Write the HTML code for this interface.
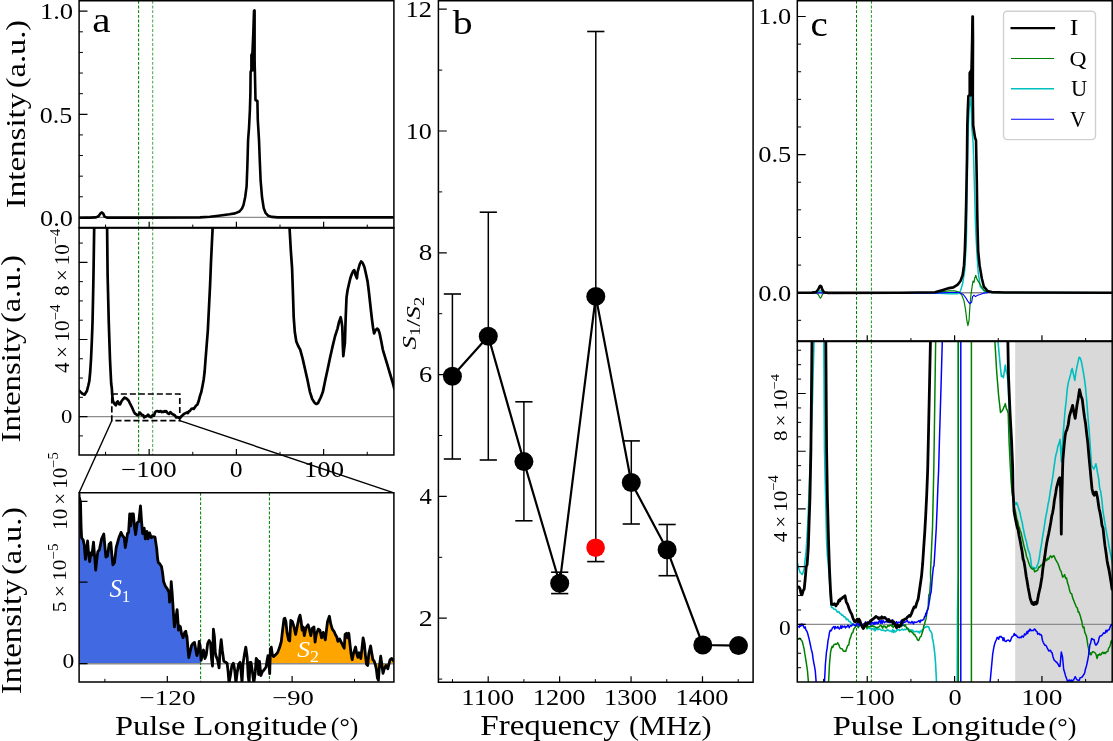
<!DOCTYPE html>
<html><head><meta charset="utf-8"><title>Figure</title>
<style>html,body{margin:0;padding:0;background:#fff;}svg{display:block;will-change:transform;}</style>
</head><body>
<svg width="1113" height="741" viewBox="0 0 1113 741" font-family='"Liberation Serif", serif'><defs><clipPath id="ca1"><rect x="79.1" y="0.8" width="314.8" height="227"/></clipPath><clipPath id="ca2"><rect x="79.1" y="227.8" width="314.8" height="227.2"/></clipPath><clipPath id="ca3"><rect x="79.1" y="492.8" width="314.8" height="189.2"/></clipPath><clipPath id="cb"><rect x="438.4" y="0.8" width="314.7" height="681.5"/></clipPath><clipPath id="cc1"><rect x="797.3" y="0.8" width="314.9" height="340.4"/></clipPath><clipPath id="cc2"><rect x="797.3" y="341.2" width="314.9" height="340.9"/></clipPath></defs><rect width="1113" height="741" fill="#fff"/><line x1="79.1" y1="217.4" x2="393.9" y2="217.4" stroke="#8c8c8c" stroke-width="1.4" />
<line x1="138.6" y1="0.8" x2="138.6" y2="227.8" stroke="#008000" stroke-width="1.05" stroke-dasharray="2.9 1.8"/>
<line x1="152.7" y1="0.8" x2="152.7" y2="227.8" stroke="#4da64d" stroke-width="1.05" stroke-dasharray="2.9 1.8"/>
<polyline points="79,217.8 90,217.6 96,217.4 98.5,216.3 100.3,213.6 101.8,212.4 103.2,213.6 104.6,216.6 107,217.6 130,217.6 200,217.4 210,216.8 218.6,215.8 229.5,214.3 235,213.4 239.5,211.5 242,208.5 243.5,205 245.2,197 246.6,186.3 247.4,165 248.1,139.8 249,128 249.9,110 250.4,93 250.6,72 251.4,70 251.4,55 252.4,53 253.3,33 254,11 254.5,10.3 254.6,11 254.6,60 254.9,72 255.5,100 257.4,101 257.8,120 259,139.8 259.8,161 260.6,180.1 262,197 263.7,208.1 265.5,212.8 268.3,215.8 272,216.9 277.6,217.4 393.7,217.4" fill="none" stroke="#000" stroke-width="2.6" stroke-linejoin="round" stroke-linecap="butt" clip-path="url(#ca1)" />
<polygon points="251.4,55 252.4,53 253.3,33 254,11 254.5,10.3 254.6,11 254.6,60 254.9,71 251.4,71" fill="#000" stroke="#000" stroke-width="1"/>
<line x1="79.1" y1="416.6" x2="393.9" y2="416.6" stroke="#8c8c8c" stroke-width="1.4" />
<line x1="138.6" y1="227.8" x2="138.6" y2="455" stroke="#008000" stroke-width="1.05" stroke-dasharray="2.9 1.8"/>
<line x1="152.7" y1="227.8" x2="152.7" y2="455" stroke="#4da64d" stroke-width="1.05" stroke-dasharray="2.9 1.8"/>
<polyline points="78.5,390.5 79.6,391 80.43,391.83 81.27,392.67 82.1,393.5 82.9,393.9 83.7,394.3 84.5,394.7 85.3,393.47 86.1,392.23 86.9,391 88.2,386 89.3,381.3 90.2,372 91,359.5 91.8,342 92.5,323.1 93,300 93.5,274.5 94.2,227 94.5,200 95.32,200 96.14,200 96.96,200 97.78,200 98.6,200 99.42,200 100.24,200 101.06,200 101.88,200 102.7,200 103.52,200 104.34,200 105.16,200 105.98,200 106.8,200 107.1,227 107.6,274.5 108.8,323.1 110,359.5 110.6,372 111.2,383.8 111.8,387.94 112.2,394.33 112.9,400.97 114,403.16 115,404.6 115.8,405.32 116.8,402.26 117.9,401.39 119,404.14 120.1,404.34 121.5,401.24 123,399.29 124.4,397.6 125.8,398.16 127.2,399.19 128.7,400.75 130.2,403.96 131.6,406.54 132.7,408.95 133.8,411.59 134.8,413.44 135.9,414.21 137.3,415.15 138.8,414.58 139.8,412.57 140.9,413.7 142,415.24 143.1,415.1 144.2,417.47 145.3,416.62 146.7,416.13 148.1,414.64 149.5,416.59 151,417.19 152.4,415.39 153.9,415.68 155,412.55 156,411.25 157.4,411.06 158.9,411.74 159.8,411.39 160.7,411.19 161.6,412.11 162.5,411.69 163.4,411.92 164.3,411.18 165.2,411.68 166.1,411.06 167.5,413.04 169,413.95 170.4,412.07 171.8,413.67 173.2,414.46 174.7,415.27 176.2,417.35 177.6,417.21 179,417.79 180.5,417.56 181.4,416.19 182.3,415.54 183.2,414.64 184.1,413.93 185.5,413.16 187,412.42 187.9,413.06 188.8,411.47 190,410.79 191.3,409.05 192.5,408.54 193.7,408.9 194.9,407.24 196.1,405.49 197.4,404.58 198.6,401.34 200,395.92 201.3,392 202.5,386 203.6,380 204.6,372 205.5,360 206.6,346 207.8,331 209,307 210.1,284.8 211,262 211.8,245 212.7,227 213.2,200 214.01,200 214.81,200 215.62,200 216.43,200 217.23,200 218.04,200 218.84,200 219.65,200 220.46,200 221.26,200 222.07,200 222.88,200 223.68,200 224.49,200 225.3,200 226.1,200 226.91,200 227.71,200 228.52,200 229.33,200 230.13,200 230.94,200 231.75,200 232.55,200 233.36,200 234.17,200 234.97,200 235.78,200 236.59,200 237.39,200 238.2,200 239,200 239.81,200 240.62,200 241.42,200 242.23,200 243.04,200 243.84,200 244.65,200 245.46,200 246.26,200 247.07,200 247.87,200 248.68,200 249.49,200 250.29,200 251.1,200 251.91,200 252.71,200 253.52,200 254.33,200 255.13,200 255.94,200 256.74,200 257.55,200 258.36,200 259.16,200 259.97,200 260.78,200 261.58,200 262.39,200 263.2,200 264,200 264.81,200 265.61,200 266.42,200 267.23,200 268.03,200 268.84,200 269.65,200 270.45,200 271.26,200 272.07,200 272.87,200 273.68,200 274.49,200 275.29,200 276.1,200 276.9,200 277.71,200 278.52,200 279.32,200 280.13,200 280.94,200 281.74,200 282.55,200 283.36,200 284.16,200 284.97,200 285.77,200 286.58,200 287.39,200 288.19,200 289,200 289.5,227 290.8,250 292.1,268.6 293,295 293.7,317.2 294.8,332 296.3,341.5 297.25,343.75 298.2,346 299.2,347.8 300.2,349.6 301.35,353.8 302.5,358 303.33,361.67 304.17,365.33 305,369 305.83,372.67 306.67,376.33 307.5,380 308.7,385.9 309.9,391.8 311.05,395.4 312.2,399 313.07,400.37 313.93,401.73 314.8,403.1 315.65,403.55 316.5,404 318,403.1 318.83,401.4 319.67,399.7 320.5,398 321.7,394.9 322.9,391.8 323.7,387.87 324.5,383.93 325.3,380 326.5,374.5 327.7,369 328.53,365 329.37,361 330.2,357 331,353.47 331.8,349.93 332.6,346.4 333.43,342.93 334.27,339.47 335.1,336 336.3,332.3 337.5,328.6 339,322 339.85,319.6 340.7,317.2 341.6,322 342.3,327 342.8,345 343.3,356.1 344,350 344.9,343.1 345.6,320 346.5,297.8 347.6,290 348.8,284.8 350.4,278 351.2,275.75 352,273.5 353.2,271 354.3,270.2 355.5,275 356.9,278.3 357.6,272 358.5,268.6 359.8,264 361.1,261.5 362.7,263 363.55,265 364.4,267 365.2,270.5 366,274 366.8,277.8 367.6,281.6 368.8,291 369.9,301 371,311 372.1,320.5 373.1,328 374.1,333.4 375.7,330 376.5,329.3 377.3,328.6 378.5,330 379.6,333.4 381.2,341 382,345.3 382.8,349.6 384,353.65 385.2,357.7 386.03,360.4 386.87,363.1 387.7,365.8 388.5,368.53 389.3,371.27 390.1,374 391.3,378 392.5,382 393.35,385.25 394.2,388.5 395.1,390.75 396,393" fill="none" stroke="#000" stroke-width="2.7" stroke-linejoin="round" stroke-linecap="butt" clip-path="url(#ca2)" />
<rect x="111.8" y="394.0" width="68.0" height="26.7" fill="none" stroke="#000" stroke-width="1.7" stroke-dasharray="6.1 2.9"/>
<line x1="111.8" y1="420.7" x2="79.1" y2="492.8" stroke="#000" stroke-width="1.4" />
<line x1="179.8" y1="420.7" x2="393.9" y2="492.8" stroke="#000" stroke-width="1.4" />
<polygon points="79.1,663.7 79.1,495.25 79.3,497 80.5,502.2 81.1,527 81.6,537.8 83.2,540 84.3,545.3 85.4,559.4 86.5,550.7 87.6,541 88.6,554 89.7,561.5 90.8,552.9 91.9,555.1 93.5,542.1 94.6,556.1 95.7,570.2 96.7,560.5 97.8,551.8 99.4,549.7 101.6,538.9 103.8,534 104.8,545.3 105.9,557.2 107.5,556.1 109.1,544.3 110.8,542.6 111.8,554 112.9,564.8 114.5,562.6 116.2,547.5 118.9,537.8 121,532.4 122.6,535.6 124.3,537.8 125.3,547.5 126.4,541 127.5,533.5 128.6,532.4 129.7,514 130.7,525.9 131.8,514 133.4,514 134.5,527 135.6,534.5 137.2,522.7 138.8,521.6 140.5,505.9 141.5,520.5 142.6,533.5 144.2,528.1 145.3,538.9 146.9,531.3 148,538.9 149.6,532.9 151.3,537.8 152.9,536.7 155,537.2 156.7,548.6 157.5,558 158.3,562.6 159.3,563.2 160.5,565 161.5,566.5 162.6,573 163.6,581.6 165.3,585.9 167.4,589.1 169,592.4 169.6,602.1 170.7,593.5 171.2,581.6 172.1,592.4 172.8,603.2 173.9,620.5 174.4,626.9 175.5,620.5 177.1,609.7 177.9,620.5 178.5,630.2 179.3,625.9 180.4,626.9 181.5,633.4 183.1,637.7 184.7,632.3 185.8,631.3 186.8,637.7 186.9,635.8 187.9,648.1 188.8,657.5 190.3,650.9 191.7,645.2 193.1,643.4 194.5,642.4 195.5,648.1 196.9,655.6 198.3,650.9 199.2,641.5 200.2,646.2 200.6,652.51 200.6,663.7" fill="#4169e1" stroke="none" clip-path="url(#ca3)"/>
<polygon points="269.6,663.7 269.6,672.24 269.7,673.6 270.4,649 271.3,647.1 272.3,654.7 273.7,656.6 275.6,654.7 277.5,652.8 279.4,648.1 280.3,645 281.3,641.5 282.7,629.2 284,618.8 284.9,618.3 285.9,621.6 287,632.4 288.6,639.9 289.7,641 290.8,620.5 292.4,621.6 294,627 295.6,634.5 297.3,625.9 298.9,618.3 300,615.1 301,620.5 302.1,630.2 303.2,627 304.3,635.6 305.9,628.1 308.1,624.8 309.1,628.1 310.8,635.6 312.4,628.1 314,627 315.1,642.1 316.2,634.5 318.3,629.1 319.9,630.2 321.5,637.8 323.2,632.4 325.3,639.9 327.5,621.6 329.4,616.2 330.7,623.7 332.3,629.1 334,631.3 335.6,635 336.7,636.7 337.9,641.3 339.6,639 341.3,642.4 343,645.9 344.2,648.2 345.1,634.4 346.5,633.3 347.6,637.9 348.8,633.3 349.9,643.6 351.1,653.9 352.2,659.7 353.4,653.9 355.6,647 356.8,653.9 357.9,657.4 359.1,652.8 360.8,658.5 362,648.2 363.1,637.9 364.3,643.6 365.4,655.1 366.5,664.2 367.7,665.4 368.8,653.9 370.6,645.9 371.7,652.8 372.9,659.7 374,660.8 375.2,664.2 376.3,668.8 377.4,678 378.4,680.3 379.2,668.8 380.7,656.2 381.8,664.2 383,673.4 384.3,668.8 386,665.4 387.8,668.8 388.9,664.2 390.1,659.7 391.8,658.5 393.5,660.8 395.9,660.03 395.9,663.7" fill="#ffa500" stroke="none" clip-path="url(#ca3)"/>
<line x1="79.1" y1="663.7" x2="393.9" y2="663.7" stroke="#8c8c8c" stroke-width="1.4" />
<line x1="200.6" y1="492.8" x2="200.6" y2="682" stroke="#008000" stroke-width="1.05" stroke-dasharray="2.9 1.8"/>
<line x1="269.4" y1="492.8" x2="269.4" y2="682" stroke="#008000" stroke-width="1.05" stroke-dasharray="2.9 1.8"/>
<polyline points="78.5,490 79.3,497 80.5,502.2 81.1,527 81.6,537.8 83.2,540 84.3,545.3 85.4,559.4 86.5,550.7 87.6,541 88.6,554 89.7,561.5 90.8,552.9 91.9,555.1 93.5,542.1 94.6,556.1 95.7,570.2 96.7,560.5 97.8,551.8 99.4,549.7 101.6,538.9 103.8,534 104.8,545.3 105.9,557.2 107.5,556.1 109.1,544.3 110.8,542.6 111.8,554 112.9,564.8 114.5,562.6 116.2,547.5 118.9,537.8 121,532.4 122.6,535.6 124.3,537.8 125.3,547.5 126.4,541 127.5,533.5 128.6,532.4 129.7,514 130.7,525.9 131.8,514 133.4,514 134.5,527 135.6,534.5 137.2,522.7 138.8,521.6 140.5,505.9 141.5,520.5 142.6,533.5 144.2,528.1 145.3,538.9 146.9,531.3 148,538.9 149.6,532.9 151.3,537.8 152.9,536.7 155,537.2 156.7,548.6 157.5,558 158.3,562.6 159.3,563.2 160.5,565 161.5,566.5 162.6,573 163.6,581.6 165.3,585.9 167.4,589.1 169,592.4 169.6,602.1 170.7,593.5 171.2,581.6 172.1,592.4 172.8,603.2 173.9,620.5 174.4,626.9 175.5,620.5 177.1,609.7 177.9,620.5 178.5,630.2 179.3,625.9 180.4,626.9 181.5,633.4 183.1,637.7 184.7,632.3 185.8,631.3 186.8,637.7 186.9,635.8 187.9,648.1 188.8,657.5 190.3,650.9 191.7,645.2 193.1,643.4 194.5,642.4 195.5,648.1 196.9,655.6 198.3,650.9 199.2,641.5 200.2,646.2 201.1,660.4 202.1,655.6 203.5,650 204.9,658.5 206.3,654.7 207.7,643.4 209.2,640.5 210.6,643.4 211.5,658.5 212.5,666 213.4,629.2 214.4,636.7 215.3,652.8 216.2,656.6 217.7,660.4 219.1,667.9 220,650.9 221.2,639.6 222.4,650.9 223.8,661.3 225.7,662.3 227.1,663.2 228.1,671.7 229,683 230.4,675.5 231.8,666 233.3,663.2 234,666 234.9,671.7 235.9,683 237.3,671.7 238.7,664.1 240.1,662.3 241.1,671.7 242,683 243,664.1 244.4,654.7 245.8,647.1 247.2,657.5 248.2,676.4 249.1,683 250.1,662.3 251,662.3 252.4,671.7 253.8,683 255.3,671.7 256.2,658.5 257.6,660.4 258.6,674.5 259.5,661.3 260.9,675.5 262.4,671.7 264.2,669.8 266.1,667 267.1,660.4 268,655.6 269,664.1 269.7,673.6 270.4,649 271.3,647.1 272.3,654.7 273.7,656.6 275.6,654.7 277.5,652.8 279.4,648.1 280.3,645 281.3,641.5 282.7,629.2 284,618.8 284.9,618.3 285.9,621.6 287,632.4 288.6,639.9 289.7,641 290.8,620.5 292.4,621.6 294,627 295.6,634.5 297.3,625.9 298.9,618.3 300,615.1 301,620.5 302.1,630.2 303.2,627 304.3,635.6 305.9,628.1 308.1,624.8 309.1,628.1 310.8,635.6 312.4,628.1 314,627 315.1,642.1 316.2,634.5 318.3,629.1 319.9,630.2 321.5,637.8 323.2,632.4 325.3,639.9 327.5,621.6 329.4,616.2 330.7,623.7 332.3,629.1 334,631.3 335.6,635 336.7,636.7 337.9,641.3 339.6,639 341.3,642.4 343,645.9 344.2,648.2 345.1,634.4 346.5,633.3 347.6,637.9 348.8,633.3 349.9,643.6 351.1,653.9 352.2,659.7 353.4,653.9 355.6,647 356.8,653.9 357.9,657.4 359.1,652.8 360.8,658.5 362,648.2 363.1,637.9 364.3,643.6 365.4,655.1 366.5,664.2 367.7,665.4 368.8,653.9 370.6,645.9 371.7,652.8 372.9,659.7 374,660.8 375.2,664.2 376.3,668.8 377.4,678 378.4,680.3 379.2,668.8 380.7,656.2 381.8,664.2 383,673.4 384.3,668.8 386,665.4 387.8,668.8 388.9,664.2 390.1,659.7 391.8,658.5 393.5,660.8 396,660" fill="none" stroke="#000" stroke-width="2.8" stroke-linejoin="round" stroke-linecap="butt" clip-path="url(#ca3)" />
<path d="M79.1,0.8V227.8 M393.9,0.8V227.8 M79.1,0.8H393.9 M79.1,227.8H393.9" stroke="#000" stroke-width="1.5" fill="none" stroke-linecap="square"/>
<path d="M79.1,227.8V455 M393.9,227.8V455 M79.1,455H393.9" stroke="#000" stroke-width="1.5" fill="none" stroke-linecap="square"/>
<line x1="79.1" y1="227.8" x2="393.9" y2="227.8" stroke="#000" stroke-width="2.0" />
<path d="M79.1,492.8V682 M393.9,492.8V682 M79.1,492.8H393.9 M79.1,682H393.9" stroke="#000" stroke-width="1.5" fill="none" stroke-linecap="square"/>
<path d="M79.1,11.2h8.4 M79.1,114.3h8.4 M79.1,217.4h8.4" stroke="#000" stroke-width="1.2"/>
<path d="M79.1,196.78h3.8 M79.1,176.16h3.8 M79.1,155.54h3.8 M79.1,134.92h3.8 M79.1,93.68h3.8 M79.1,73.06h3.8 M79.1,52.44h3.8 M79.1,31.82h3.8" stroke="#000" stroke-width="1.0"/>
<path d="M149.17,227.8v-6.0 M236.4,227.8v-6.0 M323.63,227.8v-6.0" stroke="#000" stroke-width="1.2"/>
<path d="M105.56,227.8v-3.2 M192.79,227.8v-3.2 M280.01,227.8v-3.2 M367.25,227.8v-3.2" stroke="#000" stroke-width="1.0"/>
<path d="M79.1,416.6h8.4 M79.1,339.48h8.4 M79.1,262.36h8.4" stroke="#000" stroke-width="1.2"/>
<path d="M79.1,435.88h3.8 M79.1,397.32h3.8 M79.1,378.04h3.8 M79.1,358.76h3.8 M79.1,320.2h3.8 M79.1,300.92h3.8 M79.1,281.64h3.8 M79.1,243.08h3.8" stroke="#000" stroke-width="1.0"/>
<path d="M149.17,455v-6.0 M236.4,455v-6.0 M323.63,455v-6.0" stroke="#000" stroke-width="1.2"/>
<path d="M105.56,455v-3.2 M192.79,455v-3.2 M280.01,455v-3.2 M367.25,455v-3.2" stroke="#000" stroke-width="1.0"/>
<path d="M79.1,663.7h8.4 M79.1,582.2h8.4 M79.1,501.3h8.4" stroke="#000" stroke-width="1.2"/>
<path d="M167.3,682v-6.0 M292.1,682v-6.0" stroke="#000" stroke-width="1.2"/>
<path d="M104.9,682v-3.2 M229.7,682v-3.2 M354.5,682v-3.2" stroke="#000" stroke-width="1.0"/>
<line x1="452.4" y1="294" x2="452.4" y2="459" stroke="#000" stroke-width="1.5" />
<line x1="443.8" y1="294" x2="461" y2="294" stroke="#000" stroke-width="1.6" />
<line x1="443.8" y1="459" x2="461" y2="459" stroke="#000" stroke-width="1.6" />
<line x1="488.3" y1="212.2" x2="488.3" y2="460" stroke="#000" stroke-width="1.5" />
<line x1="479.7" y1="212.2" x2="496.9" y2="212.2" stroke="#000" stroke-width="1.6" />
<line x1="479.7" y1="460" x2="496.9" y2="460" stroke="#000" stroke-width="1.6" />
<line x1="523.9" y1="401.8" x2="523.9" y2="520.8" stroke="#000" stroke-width="1.5" />
<line x1="515.3" y1="401.8" x2="532.5" y2="401.8" stroke="#000" stroke-width="1.6" />
<line x1="515.3" y1="520.8" x2="532.5" y2="520.8" stroke="#000" stroke-width="1.6" />
<line x1="559.7" y1="572.2" x2="559.7" y2="593.6" stroke="#000" stroke-width="1.5" />
<line x1="551.1" y1="572.2" x2="568.3" y2="572.2" stroke="#000" stroke-width="1.6" />
<line x1="551.1" y1="593.6" x2="568.3" y2="593.6" stroke="#000" stroke-width="1.6" />
<line x1="595.8" y1="31.5" x2="595.8" y2="296.4" stroke="#000" stroke-width="1.5" />
<line x1="587.2" y1="31.5" x2="604.4" y2="31.5" stroke="#000" stroke-width="1.6" />
<line x1="631.3" y1="440.9" x2="631.3" y2="524" stroke="#000" stroke-width="1.5" />
<line x1="622.7" y1="440.9" x2="639.9" y2="440.9" stroke="#000" stroke-width="1.6" />
<line x1="622.7" y1="524" x2="639.9" y2="524" stroke="#000" stroke-width="1.6" />
<line x1="667.1" y1="524.5" x2="667.1" y2="575.7" stroke="#000" stroke-width="1.5" />
<line x1="658.5" y1="524.5" x2="675.7" y2="524.5" stroke="#000" stroke-width="1.6" />
<line x1="658.5" y1="575.7" x2="675.7" y2="575.7" stroke="#000" stroke-width="1.6" />
<line x1="595.8" y1="296.4" x2="595.8" y2="561.6" stroke="#000" stroke-width="1.5" />
<line x1="587.2" y1="561.6" x2="604.4" y2="561.6" stroke="#000" stroke-width="1.6" />
<polyline points="452.4,376.3 488.3,336.2 523.9,461.6 559.7,583.2 595.8,296.4 631.3,482.5 667.1,549.7 702.8,645 738.5,645.6" fill="none" stroke="#000" stroke-width="2.2" stroke-linejoin="round" stroke-linecap="butt" clip-path="url(#cb)" />
<circle cx="452.4" cy="376.3" r="9.5" fill="#000"/>
<circle cx="488.3" cy="336.2" r="9.5" fill="#000"/>
<circle cx="523.9" cy="461.6" r="9.5" fill="#000"/>
<circle cx="559.7" cy="583.2" r="9.5" fill="#000"/>
<circle cx="595.8" cy="296.4" r="9.5" fill="#000"/>
<circle cx="631.3" cy="482.5" r="9.5" fill="#000"/>
<circle cx="667.1" cy="549.7" r="9.5" fill="#000"/>
<circle cx="702.8" cy="645" r="9.5" fill="#000"/>
<circle cx="738.5" cy="645.6" r="9.5" fill="#000"/>
<circle cx="595.6" cy="547.7" r="9.3" fill="#ff0000"/>
<path d="M438.4,0.8V682.3 M753.1,0.8V682.3 M438.4,0.8H753.1 M438.4,682.3H753.1" stroke="#000" stroke-width="1.5" fill="none" stroke-linecap="square"/>
<path d="M438.4,9.2h8.4 M438.4,131h8.4 M438.4,252.8h8.4 M438.4,374.6h8.4 M438.4,496.4h8.4 M438.4,618.2h8.4" stroke="#000" stroke-width="1.2"/>
<path d="M438.4,70.1h3.8 M438.4,191.9h3.8 M438.4,313.7h3.8 M438.4,435.5h3.8 M438.4,557.3h3.8 M438.4,679.1h3.8" stroke="#000" stroke-width="1.0"/>
<path d="M488.2,682.3v-6.0 M559.63,682.3v-6.0 M631.06,682.3v-6.0 M702.49,682.3v-6.0" stroke="#000" stroke-width="1.2"/>
<path d="M452.49,682.3v-3.2 M523.91,682.3v-3.2 M595.35,682.3v-3.2 M666.77,682.3v-3.2 M738.21,682.3v-3.2" stroke="#000" stroke-width="1.0"/>
<line x1="797.3" y1="292.7" x2="1112.2" y2="292.7" stroke="#8c8c8c" stroke-width="1.4" />
<line x1="856.5" y1="0.8" x2="856.5" y2="341.2" stroke="#008000" stroke-width="1.05" stroke-dasharray="2.9 1.8"/>
<line x1="871.4" y1="0.8" x2="871.4" y2="341.2" stroke="#239b23" stroke-width="1.05" stroke-dasharray="2.9 1.8"/>
<polyline points="797,293 816,293 818.5,291.8 820.4,290.6 822.3,291.8 825,293 935,293.1 949.2,293.8 957.7,293.8 960.5,290.9 962.6,283.8 964.8,269.7 966.2,244.2 966.6,230 967,200 967.4,175 967.8,150 968.3,128 969.2,108 970.7,96.5 971.3,110 971.9,128.1 973.1,142.7 973.7,160 974.3,181.6 975.5,225.4 976.1,238 976.8,251.3 978.2,272.5 980.3,286.7 984.6,291.6 991.7,292.5 1113,292.7" fill="none" stroke="#00bfbf" stroke-width="1.5" stroke-linejoin="round" stroke-linecap="butt" clip-path="url(#cc1)" />
<polyline points="797,292.8 816,292.8 818.2,294.5 819.6,297 820.4,298.2 821.3,297 822.5,294.3 824,292.8 935,292.3 949.2,290.9 954.8,290.9 959.1,292.3 961.9,295.2 964,300.9 965.5,309.4 966.9,320.7 967.9,325.7 969,320.7 970.1,303.7 971.1,293.8 972.1,286.7 973,281 974,282.4 974.7,278.2 975.8,275.3 976.8,278.9 978.9,282.4 981.1,286 983.9,290.2 987.4,292.1 1005,292.6 1113,292.7" fill="none" stroke="#008000" stroke-width="1.2" stroke-linejoin="round" stroke-linecap="butt" clip-path="url(#cc1)" />
<polyline points="797,292.9 935,293.1 949.2,292.5 959.1,292.5 963.3,294.5 965.5,297.3 967.6,300.9 969.7,303.7 971.6,302.3 972.6,296.6 974,295.2 975.4,296.6 977.5,295.2 980.3,294.5 983.9,293.1 988.8,292.5 1113,292.7" fill="none" stroke="#0000ff" stroke-width="1.1" stroke-linejoin="round" stroke-linecap="butt" clip-path="url(#cc1)" />
<polyline points="797,292.8 812,292.6 816,292 818.2,289.5 819.6,286.5 820.4,285.8 821.3,286.5 822.4,289.8 824,292.3 828,292.9 900,292.7 935,292.3 942.1,290.2 949.2,288.1 953.4,287.4 957.7,284.6 960.5,281 962.6,275.3 964,265.4 964.8,251.3 965.5,230 966.1,206 967,157.3 967.3,125.3 967.8,110 968.4,96 969.7,95 969.7,73 971.5,70 972.2,37.5 972.5,16.5 972.8,16.5 973,40 972.8,96 973.2,125.3 974.3,133 975.1,138 976,140.3 976.4,160 976.8,181.6 977.2,210 977.6,230 978.2,251.3 979.6,265.4 981.8,278.2 983.9,286.7 987.4,290.9 991.7,292.1 1005,292.5 1113,292.7" fill="none" stroke="#000" stroke-width="2.6" stroke-linejoin="round" stroke-linecap="butt" clip-path="url(#cc1)" />
<polygon points="969.7,73 971.5,70 972.2,37.5 972.5,16.5 972.8,16.5 973,40 972.8,96 969.7,96" fill="#000" stroke="#000" stroke-width="1"/>
<rect x="1015.2" y="341.2" width="97" height="340.9" fill="#d9d9d9"/>
<line x1="797.3" y1="624.4" x2="1112.2" y2="624.4" stroke="#8c8c8c" stroke-width="1.4" />
<line x1="856.5" y1="341.2" x2="856.5" y2="682.1" stroke="#008000" stroke-width="1.05" stroke-dasharray="2.9 1.8"/>
<line x1="871.4" y1="341.2" x2="871.4" y2="682.1" stroke="#239b23" stroke-width="1.05" stroke-dasharray="2.9 1.8"/>
<polyline points="796,565 796.85,566.06 797.7,563.67 798.5,568.22 799.3,569.75 800.1,572.62 801.1,573.1 802.1,574.49 802.8,573.43 803.5,570.88 804.2,568.83 805.2,559.04 806.2,550.32 807.1,535.53 808,519.12 808.75,499.79 809.5,480.06 810.25,460 811,439.52 811.75,420.01 812.5,398.95 813.3,368.16 814.1,338 814.85,338 815.59,338 816.34,338 817.08,338 817.83,338 818.58,338 819.32,338 820.07,338 820.82,338 821.56,338 822.31,338 823.05,338 823.8,338 824.5,450.73 825.2,480.5 825.9,508.9 826.6,540.74 827.4,555.75 828.2,562.78 829.5,580.57 830.5,596.54 831.5,607.46 832.33,607.65 833.17,607.9 834,609.29 834.87,609.25 835.73,609.45 836.6,610.91 837.35,612.07 838.1,611.46 838.85,611.48 839.6,613.26 840.35,613.44 841.1,614.05 841.85,615.28 842.6,615.02 843.35,616.06 844.1,616.98 844.85,616.81 845.6,617.76 846.38,619.65 847.15,619.11 847.93,619.2 848.7,621.17 849.7,621.44 850.7,622.36 851.75,624.32 852.8,624.03 853.8,625.15 854.8,625.31 855.8,625.55 856.8,625.19 857.55,626.73 858.3,626.96 859.05,625.9 859.8,625.2 860.57,624.68 861.35,624.69 862.12,625.31 862.9,624.93 863.72,624.64 864.54,625.98 865.36,626.68 866.18,626.05 867,628.9 867.8,627.33 868.6,627.16 869.4,628.57 870.2,628.62 871,628.61 871.8,628.81 872.6,628.82 873.4,629.59 874.2,628.46 875,630.81 875.82,629.18 876.64,627.87 877.46,629.76 878.28,629.39 879.1,629.05 879.88,629.09 880.66,629.71 881.44,630.19 882.22,630.42 883,630 883.75,630.34 884.5,630.46 885.25,631.03 886,630.89 886.75,630.43 887.5,629.54 888.25,630.24 889,630.66 889.75,630.94 890.5,630.98 891.25,631.13 892,631.94 892.76,629.59 893.52,632.4 894.29,630.39 895.05,632.04 895.81,631.27 896.58,630.9 897.34,629.25 898.1,629.86 898.92,629.39 899.73,630.62 900.55,630.17 901.37,629.64 902.18,629.05 903,629.8 903.7,630 904.4,629.39 905.1,629.59 905.8,629.74 906.5,628.77 907.2,628.19 907.9,628.55 908.6,630.4 909.45,629.52 910.3,629.78 911.15,629.97 912,630.54 912.72,630.1 913.44,631.98 914.16,631.54 914.88,631.67 915.6,631.44 916.4,631.36 917.2,631.69 918,631.4 918.73,632.22 919.45,632.88 920.17,631.01 920.9,631.59 921.75,630.78 922.6,629.5 923.5,628.74 924.4,627.69 925.2,626.97 926,627.22 926.95,626.42 927.9,626.65 928.75,626.77 929.6,629.89 930.5,631 931.9,633.3 932.3,637.97 933.2,641.44 934.1,647.77 934.85,654.5 935.6,663.76 936.6,684 937.31,684 938.02,684 938.73,684 939.44,684 940.15,684 940.86,684 941.57,684 942.28,684 942.99,684 943.7,684 944.41,684 945.12,684 945.83,684 946.54,684 947.26,684 947.97,684 948.68,684 949.39,684 950.1,684 950.81,684 951.52,684 952.23,684 952.94,684 953.65,684 954.36,684 955.07,684 955.78,684 956.49,684 957.2,684 957.5,611.03 958.3,570.07 958.3,338 959,338 959.7,338 960.41,338 961.11,338 961.81,338 962.51,338 963.21,338 963.91,338 964.62,338 965.32,338 966.02,338 966.72,338 967.42,338 968.12,338 968.83,338 969.53,338 970.23,338 970.93,338 971.63,338 972.34,338 973.04,338 973.74,338 974.44,338 975.14,338 975.84,338 976.55,338 977.25,338 977.95,338 978.65,338 979.35,338 980.06,338 980.76,338 981.46,338 982.16,338 982.86,338 983.56,338 984.27,338 984.97,338 985.67,338 986.37,338 987.07,338 987.77,338 988.48,338 989.18,338 989.88,338 990.58,338 991.28,338 991.99,338 992.69,338 993.39,338 994.09,338 994.79,338 995.49,338 996.2,338 996.9,338 997.6,338 998.55,347.5 999.5,357.65 1000.45,367.99 1001.4,376.41 1002.4,375.84 1003.4,377.72 1004.35,371.46 1005.3,364.99 1006.25,371.7 1007.2,374.51 1008.2,384.71 1009.5,419.59 1010.25,438.97 1011,458.99 1011.75,474.59 1012.5,491.1 1013.25,494.25 1014,501.14 1015.2,502.72 1016,504.46 1016.8,502.65 1017.75,505.39 1018.7,508.86 1019.43,510.86 1020.15,513.33 1020.88,517.36 1021.6,520.16 1022.3,522.83 1023,527.41 1023.7,530.43 1024.4,534.27 1025.12,537.3 1025.85,539.81 1026.58,542.36 1027.3,546.24 1028.2,550.18 1029.1,552.02 1030,555.01 1030.8,560.73 1031.6,567.26 1032.4,567.01 1033.2,568.93 1034,567.41 1034.8,568.51 1035.65,568.35 1036.5,567.24 1037.4,564.78 1038.3,563.01 1039.3,557.84 1040.3,551 1041,547.16 1041.7,542.82 1042.4,537.95 1043.4,532.12 1044.4,525.95 1045.4,518.93 1046.4,513.79 1047.23,509.68 1048.07,504.11 1048.9,500.71 1049.7,495.74 1050.5,489.79 1051.3,485.78 1052.1,480.59 1052.9,475.93 1053.7,469.69 1054.5,463.71 1055.3,458.07 1056.15,453.94 1057,451.36 1057.8,446.39 1058.6,444.48 1059.35,441.95 1060.1,439.33 1060.8,451.75 1061.4,462.05 1062.1,449.79 1062.9,437.58 1064,423.78 1065.1,410.27 1066.2,400.55 1067.2,389.55 1068.3,382.6 1069.4,378.83 1070.8,373.65 1071.5,369.91 1072.2,368.49 1073.5,374.62 1074.8,380.41 1075.8,373.23 1076.9,367.14 1078,362.13 1079.1,357.24 1080.2,358 1081.3,361.16 1082.3,366.44 1083.4,372.44 1084.5,379.28 1085.6,388.2 1086.7,400.51 1087.7,413.82 1088.8,426.54 1089.9,441.03 1090.7,453.55 1091.6,465.34 1092.7,467.33 1093.8,469.11 1094.9,466.57 1095.9,463.71 1096.7,467.83 1097.5,472.67 1098.6,478.19 1099.6,487.62 1100.7,491.53 1101.8,499.33 1103,511.71 1104,517.42 1105,523.89 1106.05,529.93 1107.1,535.82 1108.05,540.36 1109,546.53 1110.05,551.62 1111.1,556.53 1111.82,560.51 1112.55,564.17 1113.28,565.96 1114,570" fill="none" stroke="#00bfbf" stroke-width="1.6" stroke-linejoin="round" stroke-linecap="butt" clip-path="url(#cc2)" />
<polyline points="796,640 796.85,640.18 797.7,638.66 798.5,639.01 799.3,638.2 800.1,638.55 800.85,639.5 801.6,640.41 802.4,641.76 803.2,645.39 803.95,648.19 804.7,653.21 805.45,657.27 806.2,662.32 807.4,670.01 808.6,684 809.31,684 810.02,684 810.73,684 811.44,684 812.15,684 812.86,684 813.58,684 814.29,684 815,684 815.71,684 816.42,684 817.13,684 817.84,684 818.55,684 819.26,684 819.97,684 820.68,684 821.39,684 822.1,684 822.81,684 823.52,684 824.24,684 824.95,684 825.66,684 826.37,684 827.08,684 827.79,684 828.5,684 829.5,663.89 830.5,652.72 831.25,649.06 832,646.54 832.75,647.42 833.5,645.18 834.5,644.48 835.5,643.97 836.2,644.3 836.9,644.07 837.6,642.78 838.6,644.09 839.6,647.11 840.6,648.45 841.6,648.8 842.4,648.96 843.2,650.88 843.95,651.36 844.7,651.1 845.7,651.4 846.7,648.25 847.7,645.47 848.7,645.03 849.7,639.33 850.7,637.17 851.75,633.42 852.8,632.7 853.8,628.96 854.8,627.66 855.8,626.44 856.8,624.15 857.55,626.02 858.3,627.61 859.05,625.95 859.8,625.29 860.57,624.89 861.35,625.48 862.12,625.97 862.9,625.98 863.7,624.62 864.5,627.82 865.3,626.53 866.1,625.12 866.9,628.16 867.72,626.06 868.54,626.82 869.36,626.47 870.18,626.86 871,626.48 871.8,626.43 872.6,625.28 873.4,626.8 874.2,626.35 875,626.83 876,627.75 877,627.58 877.7,627.79 878.4,627.01 879.1,626.74 879.8,626.05 880.5,625.29 881.2,625.7 881.9,626.83 882.6,628.22 883.3,625.9 884,626.61 884.7,626.11 885.4,626.85 886.1,628.04 886.8,627.5 887.5,625.85 888.22,625.7 888.94,626.23 889.66,625.42 890.38,625.25 891.1,624.78 891.8,626.21 892.5,625.19 893.2,627.6 893.9,625.96 894.6,626.07 895.3,626.68 896,626.56 896.7,627.1 897.4,625.04 898.1,626.48 898.8,626.5 899.5,625.14 900.2,625.63 900.9,626.46 901.6,626.45 902.3,624.69 903,625.33 903.7,624.89 904.4,626.14 905.1,624.64 906,626.63 906.9,628.47 907.8,628.23 908.67,630.33 909.53,631.91 910.4,631.05 911.3,631.71 912.2,632.35 913.05,633.38 913.9,634.64 914.75,634.37 915.6,636.69 916.5,637.12 917.4,639.87 918.7,640.49 920,637.19 921.3,635.92 922.6,631.21 923,630.95 923.77,625.88 924.53,624.64 925.3,620.82 925.9,619.47 927,611.85 928.2,606.9 928.8,594.73 929.6,594.07 930.7,580.2 930.5,572.19 931.5,549.17 932.5,527.86 933.8,469.33 934.75,404.08 935.7,338 936.41,338 937.11,338 937.82,338 938.53,338 939.23,338 939.94,338 940.64,338 941.35,338 942.06,338 942.76,338 943.47,338 944.17,338 944.88,338 945.59,338 946.29,338 947,338 947.71,338 948.41,338 949.12,338 949.83,338 950.53,338 951.24,338 951.94,338 952.65,338 953.36,338 954.06,338 954.77,338 955.47,338 956.18,338 956.89,338 957.59,338 958.3,338 958.3,684 959.03,684 959.76,684 960.48,684 961.21,684 961.94,684 962.67,684 963.39,684 964.12,684 964.85,684 965.58,684 966.31,684 967.03,684 967.76,684 968.49,684 969.22,684 969.94,684 970.67,684 971.4,684 971.4,338 972.11,338 972.81,338 973.52,338 974.22,338 974.93,338 975.64,338 976.34,338 977.05,338 977.75,338 978.46,338 979.17,338 979.87,338 980.58,338 981.28,338 981.99,338 982.7,338 983.4,338 984.11,338 984.82,338 985.52,338 986.23,338 986.93,338 987.64,338 988.35,338 989.05,338 989.76,338 990.46,338 991.17,338 991.88,338 992.58,338 993.29,338 993.99,338 994.7,338 995.7,355.13 996.7,372 997.65,383.6 998.6,395.37 999.55,403.95 1000.5,412.45 1001.45,411.42 1002.4,410.48 1003.12,409.24 1003.85,407.06 1004.57,406.13 1005.3,403.62 1006.25,408.34 1007.2,410.11 1008.2,413.63 1009.1,441.66 1010.1,462.34 1011,479.57 1012,492.27 1012.75,497.17 1013.5,502.22 1014.45,508.12 1015.4,511.24 1016.8,518.72 1017.67,521.24 1018.53,525.43 1019.4,527.44 1020.1,530.51 1020.8,531.79 1021.5,534.72 1022.5,539.22 1023.5,544.02 1024.5,548.35 1025.5,551.35 1026.5,556.51 1027.5,558.88 1028.5,562.09 1029.5,565.04 1030.55,567.31 1031.6,568.65 1032.6,569.17 1033.6,568.58 1034.6,571.76 1035.6,571.25 1036.6,570.8 1037.6,570.2 1038.3,568.36 1039,566.82 1039.7,567.19 1040.7,565.35 1041.7,565.46 1042.7,563.42 1043.7,563.11 1044.7,561.41 1045.7,558.96 1046.7,560.62 1047.7,558.32 1048.75,559.19 1049.8,556.61 1050.8,555.85 1051.8,557.67 1052.8,556.28 1053.8,555.64 1054.8,557.6 1055.8,559.99 1056.8,561.73 1057.8,563.19 1058.5,565 1059.2,566.92 1059.9,569.28 1061.2,571.58 1062.6,577.08 1063.6,576.29 1064.6,574.55 1065.6,578.4 1066.6,578.03 1067.6,583.09 1068.6,585.93 1069.3,588.96 1070,591.71 1070.7,593.26 1071.7,593.79 1072.7,598.1 1073.7,600.25 1074.7,603.03 1075.2,603.91 1075.94,606.41 1076.68,607.41 1077.42,608.05 1078.16,612.05 1078.9,611.76 1079.62,614.14 1080.34,615.95 1081.06,619.13 1081.78,621.09 1082.5,625.72 1083.24,627.79 1083.98,626.94 1084.72,632.13 1085.46,633.85 1086.2,635.23 1087,639.24 1087.8,645.14 1088.6,648.64 1089.2,654.24 1090.1,652.7 1091,654.91 1091.8,652.99 1092.6,651.67 1093.4,651.83 1094.35,652.33 1095.3,653 1096.2,654.97 1097.1,658.45 1098,654.74 1098.9,655.23 1099.7,653.91 1100.5,654.98 1101.3,654.33 1102.13,652.59 1102.97,652.17 1103.8,653.54 1104.6,652.42 1105.4,653.5 1106.2,652.15 1107,651.55 1107.8,651.53 1108.6,648.26 1109.43,647.32 1110.27,645.15 1111.1,641.03 1111.82,643.07 1112.55,639.47 1113.28,639.77 1114,638" fill="none" stroke="#008000" stroke-width="1.5" stroke-linejoin="round" stroke-linecap="butt" clip-path="url(#cc2)" />
<polyline points="796,627 796.85,627.01 797.7,626.43 798.47,626.41 799.23,627.34 800,625.02 800.7,626.22 801.4,623.91 802.1,625.39 802.85,624.37 803.6,626.72 804.4,628.2 805.2,626.82 805.95,630.02 806.7,630.9 807.45,632.78 808.2,635.49 809.2,639.33 810.2,644.02 811.25,649.19 812.3,652.95 813.05,658.55 813.8,662.8 814.55,666.68 815.3,671.12 816.3,684 817.04,684 817.77,684 818.51,684 819.25,684 819.98,684 820.72,684 821.45,684 822.19,684 822.93,684 823.66,684 824.4,684 825.4,664.31 826.4,652.69 827.2,647.82 828,640.58 828.75,637.2 829.5,632.38 830.25,630.16 831,630.86 831.75,629.57 832.5,627.72 833.25,627.14 834,626.55 834.75,628.92 835.5,626.64 836.27,627.83 837.05,628.09 837.83,626.53 838.6,628 839.35,628.91 840.1,628.34 840.85,625.69 841.6,628.28 842.38,625.95 843.15,626.99 843.93,626.88 844.7,626.06 845.45,627.93 846.2,626.76 846.95,626.95 847.7,625.22 848.45,625.52 849.2,627.7 849.95,626.09 850.7,625.78 851.48,625.95 852.25,624.94 853.02,623.91 853.8,624.35 854.55,625.24 855.3,625.91 856.05,625.56 856.8,623.64 857.6,623.91 858.4,623.83 859.2,625.92 860,623.23 860.8,623.4 861.62,624.22 862.44,624.92 863.26,624.01 864.08,623.91 864.9,624.37 865.63,621.74 866.36,623.41 867.09,622.58 867.81,623.55 868.54,622.07 869.27,623.55 870,624.15 870.71,624.88 871.43,621.9 872.14,622.31 872.86,623.28 873.57,624.12 874.29,622.28 875,624.3 876,621.99 877,623.75 877.75,622.21 878.5,623.27 879.25,620.61 880,620.67 880.77,623.24 881.55,620.29 882.33,623.31 883.1,620.76 883.83,621.56 884.57,622.62 885.3,621.75 886.03,621.58 886.77,621.64 887.5,621.13 888.25,622.22 889,622.3 889.75,622.39 890.5,622.53 891.25,621.83 892,621.63 892.76,619.82 893.52,623.87 894.29,622.51 895.05,622.78 895.81,622.81 896.58,621.63 897.34,624.21 898.1,622.58 898.92,622.11 899.73,622.56 900.55,622.18 901.37,620.29 902.18,625.6 903,623.12 903.7,622.44 904.4,621.82 905.1,622.23 905.8,621.74 906.5,620.9 907.2,620.47 907.9,621.62 908.6,622.73 909.45,622.1 910.3,623.11 911.15,622.88 912,621.41 912.72,622.81 913.44,623.85 914.16,621.88 914.88,622.43 915.6,622.19 916.45,622.38 917.3,621.85 918.15,621.41 919,620.54 920,622.49 920.87,620.11 921.73,620.71 922.6,620.19 923,619.63 923.73,619.48 924.45,616.89 925.17,616.16 925.9,612.9 926.1,615.61 927,610.67 927.9,609.5 928.8,604.84 928.9,603.84 929.63,599.56 930.37,594.38 931.1,592.34 932.3,577.53 933.4,566.85 934,565.8 934.77,553.45 935.53,540.61 936.3,527.42 937.07,508.74 937.83,488.49 938.6,470.68 939.36,442.87 940.12,416.81 940.88,391.53 941.64,364.74 942.4,338 943.11,338 943.82,338 944.52,338 945.23,338 945.94,338 946.65,338 947.35,338 948.06,338 948.77,338 949.48,338 950.18,338 950.89,338 951.6,338 952.31,338 953.02,338 953.72,338 954.43,338 955.14,338 955.85,338 956.55,338 957.26,338 957.97,338 958.68,338 959.38,338 960.09,338 960.8,338 960.8,684 961.51,684 962.21,684 962.92,684 963.63,684 964.34,684 965.04,684 965.75,684 966.46,684 967.17,684 967.87,684 968.58,684 969.29,684 970,684 970.7,684 971.41,684 972.12,684 972.82,684 973.53,684 974.24,684 974.95,684 975.65,684 976.36,684 977.07,684 977.78,684 978.48,684 979.19,684 979.9,684 980.6,684 981.31,684 982.02,684 982.73,684 983.43,684 984.14,684 984.85,684 985.56,684 986.26,684 986.97,684 987.68,684 988.39,684 989.09,684 989.8,684 990.1,682.1 991.3,669.07 992,661.58 992.7,654.02 993.45,649.73 994.2,645.69 994.97,642.88 995.73,640.98 996.5,639.32 997.23,637.37 997.97,637.93 998.7,639.27 999.43,636.59 1000.17,636.99 1000.9,636.33 1001.63,637.23 1002.37,637.6 1003.1,640.67 1003.87,637.68 1004.63,640.89 1005.4,641.2 1006.13,641.59 1006.87,640.49 1007.6,640.35 1008.35,640.01 1009.1,640.55 1009.85,641.41 1010.6,640.56 1011.33,638.33 1012.07,636.63 1012.8,636.4 1013.53,635.47 1014.27,633.44 1015,635.31 1015.75,634.67 1016.5,636.03 1017.25,636.15 1018,637.52 1018.75,637.38 1019.5,637.71 1020.25,637.16 1021,637.77 1021.73,636.24 1022.45,636.07 1023.17,637.17 1023.9,635.78 1024.63,633.89 1025.37,634.86 1026.1,634.28 1026.87,631.75 1027.63,633.52 1028.4,630.51 1029.2,631.11 1030,629.06 1030.8,630.76 1031.6,630.32 1032.5,630.41 1033.4,630.56 1034.3,629.04 1035.2,629.44 1036.1,631.1 1037,631.56 1037.75,634.21 1038.5,633.57 1039.25,633.62 1040,634.88 1040.8,634.44 1041.6,635.46 1042.4,640.15 1043.23,642.34 1044.07,643.83 1044.9,645.31 1045.7,645.18 1046.5,646.45 1047.3,648.11 1048.1,649.67 1048.9,651.04 1049.7,650.49 1050.5,650.3 1051.3,652.16 1052.1,652.85 1053.05,657.04 1054,659.86 1054.9,660.74 1055.8,661.73 1056.6,661.96 1057.4,663.4 1058.2,664.21 1059.1,666.39 1060,666.34 1061.3,651.9 1062.5,656.85 1063.7,669.47 1064.6,672.27 1065.5,675.65 1066.4,678.06 1067.3,680.79 1068.13,681.58 1068.97,680.01 1069.8,680 1070.55,681.5 1071.3,680 1072.05,681.84 1072.8,680.39 1073.6,679.81 1074.4,678.23 1075.2,676.68 1076.03,678.4 1076.87,679.62 1077.7,680.01 1078.5,680.36 1079.3,680.19 1080.1,677.76 1081,677.53 1081.9,677.23 1082.8,675.98 1083.7,674.79 1084.6,673.15 1085.5,668.97 1086.45,665.88 1087.4,661.76 1088.6,655.17 1089.8,645.3 1090.7,642.73 1091.6,638.46 1092.8,639.39 1094,639.47 1094.95,643.68 1095.9,645.12 1097.1,643.88 1098.3,641.64 1099.2,637.6 1100.1,635.94 1101,635.95 1101.9,635.28 1102.73,634.18 1103.57,632.88 1104.4,633.32 1105.2,632.97 1106,630.31 1106.8,632.01 1107.6,630.33 1108.4,630.08 1109.2,629.84 1110.15,626.76 1111.1,624.86 1111.82,625.23 1112.55,624.11 1113.28,624.42 1114,623" fill="none" stroke="#0000ff" stroke-width="1.5" stroke-linejoin="round" stroke-linecap="butt" clip-path="url(#cc2)" />
<polyline points="796,586 796.85,587.75 797.7,587.12 798.9,586.85 800.1,588.92 801.1,593.68 802.1,594.75 803.15,590.69 804.2,589 805.2,579.22 806.2,566.79 807.1,564.78 808.3,547.58 809.1,522.5 809.9,499.57 810.9,450.35 811.4,399.42 812,338 812.81,338 813.62,338 814.44,338 815.25,338 816.06,338 816.87,338 817.68,338 818.49,338 819.31,338 820.12,338 820.93,338 821.74,338 822.55,338 823.36,338 824.18,338 824.99,338 825.8,338 826.6,449.21 827.4,498.54 828.7,546.23 829.5,569.6 830.5,590.38 831.5,604.41 833,604.51 834.5,603.71 836,605.9 836.8,604.24 837.6,603.85 839,600.07 839.8,601.02 840.6,598.85 842,598.5 842.8,597.31 843.6,597.09 845,595.76 846.3,602.14 847.7,604.56 849,608.55 850.4,611.91 851.7,614.11 853,618.22 854.4,621.34 855.3,621.98 856.2,620.84 857.1,619.11 858,621.86 858.9,619.13 859.8,620.55 861.2,624.62 862.5,627.41 863.4,628.5 864.3,626.3 865.2,623.63 866.1,625.37 867,624.77 867.9,622.73 868.75,623.06 869.6,622.31 870.5,620.75 871.4,620.2 872.3,619.55 873.2,619.01 874.5,617.88 875.9,616.4 876.8,617.09 877.7,617.34 878.6,618.7 879.5,617.88 880.65,618.33 881.8,616.78 882.9,618.2 884,617.66 884.9,617.46 885.8,618.44 886.7,619.21 887.6,621.11 888.75,619.42 889.9,621.28 891,621.15 892.1,620.91 893,623.49 893.9,622.01 894.8,623.98 895.7,625.74 896.6,627.68 897.5,625.15 898.4,626.25 899.3,626.77 900.2,625.29 901.1,624.6 902,622.3 902.9,620.09 903.8,620.1 904.7,619.06 905.6,618.84 906.5,618.39 907.4,616.97 908.3,616.57 909.2,615.45 910.1,616.25 911.5,613.54 912.8,610.11 914.2,606.89 915.5,607.26 916.9,602.46 918.2,599.03 919.1,592.79 920,586.56 921.5,576.29 922.65,563.73 923.8,546.15 924.75,532.39 925.7,515.52 926.7,495.03 927.7,469.3 928.63,427.25 929.57,382.46 930.5,338 931.31,338 932.11,338 932.92,338 933.72,338 934.53,338 935.33,338 936.14,338 936.94,338 937.75,338 938.55,338 939.36,338 940.16,338 940.97,338 941.77,338 942.58,338 943.38,338 944.19,338 944.99,338 945.8,338 946.6,338 947.41,338 948.21,338 949.02,338 949.83,338 950.63,338 951.44,338 952.24,338 953.05,338 953.85,338 954.66,338 955.46,338 956.27,338 957.07,338 957.88,338 958.68,338 959.49,338 960.29,338 961.1,338 961.9,338 962.71,338 963.51,338 964.32,338 965.12,338 965.93,338 966.73,338 967.54,338 968.34,338 969.15,338 969.96,338 970.76,338 971.57,338 972.37,338 973.18,338 973.98,338 974.79,338 975.59,338 976.4,338 977.2,338 978.01,338 978.81,338 979.62,338 980.42,338 981.23,338 982.03,338 982.84,338 983.64,338 984.45,338 985.25,338 986.06,338 986.86,338 987.67,338 988.47,338 989.28,338 990.09,338 990.89,338 991.7,338 992.5,338 993.31,338 994.11,338 994.92,338 995.72,338 996.53,338 997.33,338 998.14,338 998.94,338 999.75,338 1000.55,338 1001.36,338 1002.16,338 1002.97,338 1003.77,338 1004.58,338 1005.38,338 1006.19,338 1006.99,338 1007.8,338 1008.5,376.12 1009.3,395.5 1010.1,413.97 1011.6,441.7 1012,451.37 1012.7,468.37 1013,489.22 1014,510.96 1015,516.73 1016,521.7 1017.05,526.77 1018.1,529.79 1019.05,535.51 1020,539.94 1021.05,545.98 1022.1,551.54 1023.05,558.7 1024,561.6 1025.1,568.37 1026.2,576.2 1027.2,581.83 1028.2,587.94 1029.2,593 1030.2,598.6 1031.1,601.07 1032,603.58 1032.85,602.61 1033.7,604.64 1035.3,602.1 1036.15,604.03 1037,603.14 1038.6,594.1 1039.4,590.78 1040.2,587.41 1041.1,582.08 1042,576.69 1042.85,568.57 1043.7,563.25 1044.7,557.08 1045.7,549.8 1046.7,543.29 1047.7,538.12 1048.75,533.37 1049.8,527.74 1050.8,522.3 1051.8,515.78 1052.65,512.61 1053.5,507.86 1054.3,500.83 1055.8,492.67 1056.4,488.35 1058,482.2 1058.85,479.2 1059.7,477.81 1060.5,486.87 1061,508.84 1061.3,534.11 1061.8,501.22 1062.6,468.73 1062.9,459.88 1064,446.88 1065.1,435.92 1065.9,431.67 1066.7,430.27 1068.3,424.29 1069.35,416.44 1070.4,412.77 1071.5,409.55 1072.6,405.33 1073.9,412.41 1075.2,418.42 1076.1,411.84 1076.9,405.71 1078.2,398.39 1079.5,389.61 1080.9,395.63 1082.3,399.58 1083.4,408.96 1084.5,417.28 1085.6,423.77 1086.7,433.92 1087.8,442.76 1088.8,454.8 1090,467.54 1091,478.4 1092,488.7 1093.1,493.52 1094.2,495.27 1095.3,492.14 1096.3,492.24 1097.5,497.77 1099,508.28 1100,512.47 1101,517.95 1102,525.39 1103,527.97 1104,537.43 1105,545.9 1106.05,552.8 1107.1,560.75 1108.05,565.68 1109,569.93 1110.05,576 1111.1,582.59 1112.07,589.3 1113.03,589.37 1114,596" fill="none" stroke="#000" stroke-width="2.8" stroke-linejoin="round" stroke-linecap="butt" clip-path="url(#cc2)" />
<path d="M797.3,0.8V341.2 M1112.2,0.8V341.2 M797.3,0.8H1112.2 M797.3,341.2H1112.2" stroke="#000" stroke-width="1.5" fill="none" stroke-linecap="square"/>
<path d="M797.3,341.2V682.1 M1112.2,341.2V682.1 M797.3,682.1H1112.2" stroke="#000" stroke-width="1.5" fill="none" stroke-linecap="square"/>
<line x1="797.3" y1="341.2" x2="1112.2" y2="341.2" stroke="#000" stroke-width="2.0" />
<path d="M797.3,16.5h8.4 M797.3,154.6h8.4 M797.3,292.7h8.4" stroke="#000" stroke-width="1.2"/>
<path d="M797.3,320.32h3.8 M797.3,265.08h3.8 M797.3,237.46h3.8 M797.3,209.84h3.8 M797.3,182.22h3.8 M797.3,126.98h3.8 M797.3,99.36h3.8 M797.3,71.74h3.8 M797.3,44.12h3.8" stroke="#000" stroke-width="1.0"/>
<path d="M867.25,341.2v-6.0 M954.6,341.2v-6.0 M1041.95,341.2v-6.0" stroke="#000" stroke-width="1.2"/>
<path d="M823.58,341.2v-3.2 M910.93,341.2v-3.2 M998.27,341.2v-3.2 M1085.62,341.2v-3.2" stroke="#000" stroke-width="1.0"/>
<path d="M797.3,624.4h8.4 M797.3,566.68h8.4 M797.3,508.96h8.4 M797.3,451.24h8.4 M797.3,393.52h8.4" stroke="#000" stroke-width="1.2"/>
<path d="M797.3,667.69h3.8 M797.3,653.26h3.8 M797.3,638.83h3.8 M797.3,609.97h3.8 M797.3,595.54h3.8 M797.3,581.11h3.8 M797.3,552.25h3.8 M797.3,537.82h3.8 M797.3,523.39h3.8 M797.3,494.53h3.8 M797.3,480.1h3.8 M797.3,465.67h3.8 M797.3,436.81h3.8 M797.3,422.38h3.8 M797.3,407.95h3.8 M797.3,379.09h3.8 M797.3,364.66h3.8 M797.3,350.23h3.8" stroke="#000" stroke-width="1.0"/>
<path d="M867.25,682.1v-6.0 M954.6,682.1v-6.0 M1041.95,682.1v-6.0" stroke="#000" stroke-width="1.2"/>
<path d="M823.58,682.1v-3.2 M910.93,682.1v-3.2 M998.27,682.1v-3.2 M1085.62,682.1v-3.2" stroke="#000" stroke-width="1.0"/>
<rect x="1003.5" y="11.2" width="92" height="128.4" rx="3.8" ry="3.8" fill="#fff" fill-opacity="0.8" stroke="#d0d0d0" stroke-width="1.4"/>
<line x1="1010.5" y1="28.1" x2="1055.1" y2="28.1" stroke="#000" stroke-width="2.4" />
<line x1="1011" y1="58.5" x2="1054" y2="58.5" stroke="#008000" stroke-width="1.2" />
<line x1="1011" y1="88.7" x2="1054" y2="88.7" stroke="#00bfbf" stroke-width="1.6" />
<line x1="1011" y1="119.2" x2="1054" y2="119.2" stroke="#0000ff" stroke-width="1.1" />
<text transform="translate(39.878,19.055) scale(1.1111,0.9785)" x="0" y="0" font-size="24" fill="#000">1.0</text>
<text transform="translate(39.818,122.555) scale(1.0821,0.9785)" x="0" y="0" font-size="24" fill="#000">0.5</text>
<text transform="translate(40.004,225.557) scale(1.0964,0.9723)" x="0" y="0" font-size="24" fill="#000">0.0</text>
<text transform="translate(92.270,31.946) scale(1.1439,1.0176)" x="0" y="0" font-size="36" fill="#000">a</text>
<text transform="translate(24.900,208.137) scale(0.9766,1.1373) rotate(-90)" x="0" y="0" font-size="29" fill="#000">Intensity</text>
<text transform="translate(24.900,88.194) scale(0.9600,1.1149) rotate(-90)" x="0" y="0" font-size="29" fill="#000">(a.u.)</text>
<text transform="translate(19.800,442.432) scale(0.9766,1.1323) rotate(-90)" x="0" y="0" font-size="29" fill="#000">Intensity</text>
<text transform="translate(19.800,322.987) scale(0.9600,1.1098) rotate(-90)" x="0" y="0" font-size="29" fill="#000">(a.u.)</text>
<text transform="translate(20.900,694.130) scale(0.9818,1.1303) rotate(-90)" x="0" y="0" font-size="29" fill="#000">Intensity</text>
<text transform="translate(20.900,574.885) scale(0.9650,1.1081) rotate(-90)" x="0" y="0" font-size="29" fill="#000">(a.u.)</text>
<text transform="translate(68.871,296.015) scale(0.9179,0.9540) rotate(-90)" x="0" y="0" font-size="22" fill="#000">8 × 10<tspan dy="-9.24" font-size="15.40">−4</tspan></text>
<text transform="translate(68.767,372.884) scale(0.9333,0.9677) rotate(-90)" x="0" y="0" font-size="22" fill="#000">4 × 10<tspan dy="-9.24" font-size="15.40">−4</tspan></text>
<text transform="translate(61.026,422.580) scale(1.0316,0.8814)" x="0" y="0" font-size="22" fill="#000">0</text>
<text transform="translate(121.097,476.965) scale(1.1221,0.9415)" x="0" y="0" font-size="24" fill="#000">−100</text>
<text transform="translate(229.730,476.965) scale(1.0700,0.9415)" x="0" y="0" font-size="24" fill="#000">0</text>
<text transform="translate(303.976,476.965) scale(1.1121,0.9415)" x="0" y="0" font-size="24" fill="#000">100</text>
<text transform="translate(66.571,529.699) scale(0.9179,0.9494) rotate(-90)" x="0" y="0" font-size="22" fill="#000">10 × 10<tspan dy="-9.24" font-size="15.40">−5</tspan></text>
<text transform="translate(66.174,612.215) scale(0.9026,0.9716) rotate(-90)" x="0" y="0" font-size="22" fill="#000">5 × 10<tspan dy="-9.24" font-size="15.40">−5</tspan></text>
<text transform="translate(62.495,668.459) scale(1.0737,0.9627)" x="0" y="0" font-size="22" fill="#000">0</text>
<text transform="translate(139.279,704.575) scale(1.1368,0.8985)" x="0" y="0" font-size="24" fill="#000">−120</text>
<text transform="translate(272.213,704.575) scale(1.1099,0.8985)" x="0" y="0" font-size="24" fill="#000">−90</text>
<text transform="translate(114.959,734.700) scale(1.1216,0.9700)" x="0" y="0" font-size="29" fill="#000">Pulse Longitude</text>
<text transform="translate(330.828,734.584) scale(1.0723,1.0233)" x="0" y="0" font-size="24" fill="#000">(°)</text>
<text transform="translate(109.463,597.430) scale(0.9494,0.9467)" x="0" y="0" font-size="26" fill="#fff"><tspan font-style="italic">S</tspan><tspan dy="5.20" font-size="18.20">1</tspan></text>
<text transform="translate(297.154,656.910) scale(0.9831,0.8933)" x="0" y="0" font-size="26" fill="#fff"><tspan font-style="italic">S</tspan><tspan dy="5.20" font-size="18.20">2</tspan></text>
<text transform="translate(405.602,17.000) scale(1.0988,0.9778)" x="0" y="0" font-size="24" fill="#000">12</text>
<text transform="translate(405.629,138.563) scale(1.0857,0.9477)" x="0" y="0" font-size="24" fill="#000">10</text>
<text transform="translate(418.870,260.360) scale(1.1300,0.9600)" x="0" y="0" font-size="24" fill="#000">8</text>
<text transform="translate(418.898,382.356) scale(1.1024,0.9750)" x="0" y="0" font-size="24" fill="#000">6</text>
<text transform="translate(419.486,504.200) scale(1.0273,0.9905)" x="0" y="0" font-size="24" fill="#000">4</text>
<text transform="translate(418.841,626.000) scale(1.1590,0.9905)" x="0" y="0" font-size="24" fill="#000">2</text>
<text transform="translate(452.800,33.759) scale(1.1030,0.9624)" x="0" y="0" font-size="36" fill="#000">b</text>
<text transform="translate(461.358,704.557) scale(1.1209,0.9723)" x="0" y="0" font-size="24" fill="#000">1100</text>
<text transform="translate(532.696,704.557) scale(1.1022,0.9723)" x="0" y="0" font-size="24" fill="#000">1200</text>
<text transform="translate(603.996,704.557) scale(1.1022,0.9723)" x="0" y="0" font-size="24" fill="#000">1300</text>
<text transform="translate(675.596,704.557) scale(1.1022,0.9723)" x="0" y="0" font-size="24" fill="#000">1400</text>
<text transform="translate(480.244,734.700) scale(1.1416,0.9842)" x="0" y="0" font-size="29" fill="#000">Frequency</text>
<text transform="translate(628.993,734.800) scale(1.0458,0.9700)" x="0" y="0" font-size="29" fill="#000">(MHz)</text>
<text transform="translate(416.221,349.438) scale(0.7092,0.9519) rotate(-90)" x="0" y="0" font-size="28" fill="#000"><tspan font-style="italic">S</tspan><tspan dy="5.60" font-size="19.60">1</tspan>/<tspan font-style="italic">S</tspan><tspan dy="5.60" font-size="19.60">2</tspan></text>
<text transform="translate(758.300,24.358) scale(1.1000,0.9662)" x="0" y="0" font-size="24" fill="#000">1.0</text>
<text transform="translate(758.196,162.258) scale(1.1036,0.9662)" x="0" y="0" font-size="24" fill="#000">0.5</text>
<text transform="translate(758.196,300.762) scale(1.1036,0.9538)" x="0" y="0" font-size="24" fill="#000">0.0</text>
<text transform="translate(810.381,35.754) scale(1.0792,0.9855)" x="0" y="0" font-size="36" fill="#000">c</text>
<text transform="translate(786.783,441.114) scale(0.8667,0.9525) rotate(-90)" x="0" y="0" font-size="22" fill="#000">8 × 10<tspan dy="-9.24" font-size="15.40">−4</tspan></text>
<text transform="translate(786.776,542.275) scale(0.8974,0.9505) rotate(-90)" x="0" y="0" font-size="22" fill="#000">4 × 10<tspan dy="-9.24" font-size="15.40">−4</tspan></text>
<text transform="translate(778.920,634.575) scale(0.9800,0.8985)" x="0" y="0" font-size="24" fill="#000">0</text>
<text transform="translate(839.403,704.565) scale(1.1179,0.9415)" x="0" y="0" font-size="24" fill="#000">−100</text>
<text transform="translate(948.500,704.565) scale(1.1000,0.9415)" x="0" y="0" font-size="24" fill="#000">0</text>
<text transform="translate(1021.315,704.565) scale(1.1424,0.9415)" x="0" y="0" font-size="24" fill="#000">100</text>
<text transform="translate(832.657,734.700) scale(1.1243,0.9750)" x="0" y="0" font-size="29" fill="#000">Pulse Longitude</text>
<text transform="translate(1048.615,734.614) scale(1.0851,1.0372)" x="0" y="0" font-size="24" fill="#000">(°)</text>
<text transform="translate(1069.792,35.200) scale(1.0769,0.9333)" x="0" y="0" font-size="24" fill="#000">I</text>
<text transform="translate(1069.619,65.515) scale(0.9813,0.9026)" x="0" y="0" font-size="24" fill="#000">Q</text>
<text transform="translate(1071.032,96.463) scale(0.9354,0.9500)" x="0" y="0" font-size="24" fill="#000">U</text>
<text transform="translate(1069.975,126.664) scale(0.9015,0.9438)" x="0" y="0" font-size="24" fill="#000">V</text></svg>
</body></html>
